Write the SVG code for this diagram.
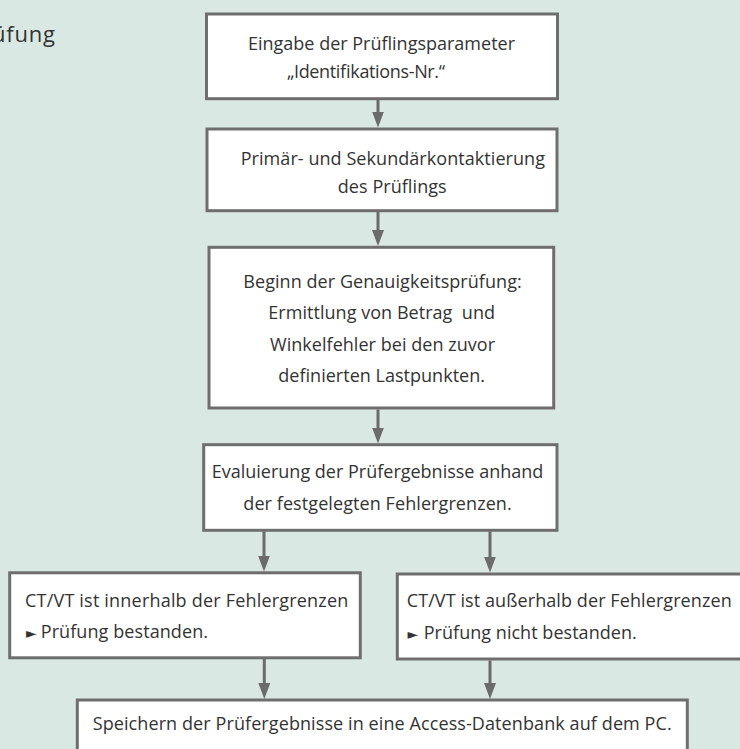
<svg xmlns="http://www.w3.org/2000/svg" width="740" height="749" viewBox="0 0 740 749">
<style>
.box{fill:#ffffff;stroke:#6e6e6e;stroke-width:3}
.t{font-family:"Open Sans","Noto Sans","Liberation Sans",sans-serif;font-size:18px;fill:#333333}
.bul{font-family:"DejaVu Sans","Noto Sans",sans-serif;font-size:14px;fill:#333333}
.title{font-family:"Open Sans","Noto Sans","Liberation Sans",sans-serif;font-size:22px;fill:#333333}
.con{stroke:#6b6b6b;stroke-width:3;fill:none;marker-end:url(#ah)}
</style>
<defs>
<marker id="ah" markerUnits="userSpaceOnUse" markerWidth="16" markerHeight="12" refX="4" refY="6" orient="auto">
<path d="M0,0 L16,6 L0,12 Z" fill="#6b6b6b"/>
</marker>
</defs>
<rect x="0" y="0" width="740" height="749" fill="#dae8e3"/>
<text class="title" x="-8" y="42" textLength="63">üfung</text>
<g id="connectors">
<path class="con" d="M378,100 L378,115.5"/>
<path class="con" d="M378,212 L378,234"/>
<path class="con" d="M378,409.5 L378,431.5"/>
<path class="con" d="M264,531.5 L264,559.5"/>
<path class="con" d="M490,531.5 L490,560.5"/>
<path class="con" d="M264.3,659 L264.3,687"/>
<path class="con" d="M490,660.5 L490,687"/>
</g>
<g id="n1">
<rect class="box" x="206.5" y="14" width="351" height="84.7"/>
<text class="t" x="248" y="50" textLength="267">Eingabe der Prüflingsparameter</text>
<text class="t" x="287" y="78" textLength="158">„Identifikations-Nr.“</text>
</g>
<g id="n2">
<rect class="box" x="207" y="129" width="350" height="81.7"/>
<text class="t" x="240.7" y="164.5" textLength="304.3">Primär- und Sekundärkontaktierung</text>
<text class="t" x="337.7" y="193.3" textLength="109">des Prüflings</text>
</g>
<g id="n3">
<rect class="box" x="209" y="247.3" width="344.7" height="160.7"/>
<text class="t" x="243.3" y="288.3" textLength="278.4">Beginn der Genauigkeitsprüfung:</text>
<text class="t" x="268.3" y="319.3" textLength="226.7" xml:space="preserve">Ermittlung von Betrag  und</text>
<text class="t" x="270" y="350.5" textLength="225">Winkelfehler bei den zuvor</text>
<text class="t" x="278.3" y="381.5" textLength="206.7">definierten Lastpunkten.</text>
</g>
<g id="n4">
<rect class="box" x="203.7" y="444.7" width="353.3" height="85.6"/>
<text class="t" x="211.7" y="478.3" textLength="331.6">Evaluierung der Prüfergebnisse anhand</text>
<text class="t" x="243.3" y="510" textLength="268.4">der festgelegten Fehlergrenzen.</text>
</g>
<g id="n5">
<rect class="box" x="9.7" y="572.8" width="350.6" height="85"/>
<text class="t" x="25" y="606.7" textLength="323.3">CT/VT ist innerhalb der Fehlergrenzen</text>
<text class="t" y="638.3"><tspan class="bul" x="26">►</tspan><tspan x="36" textLength="172" xml:space="preserve"> Prüfung bestanden.</tspan></text>
</g>
<g id="n6">
<rect class="box" x="397.3" y="574" width="360" height="85"/>
<text class="t" x="406.7" y="606.7" textLength="325">CT/VT ist außerhalb der Fehlergrenzen</text>
<text class="t" y="639"><tspan class="bul" x="407.5">►</tspan><tspan x="419" textLength="217.7" xml:space="preserve"> Prüfung nicht bestanden.</tspan></text>
</g>
<g id="n7">
<rect class="box" x="77.3" y="700" width="610" height="70"/>
<text class="t" x="92.7" y="729.5" textLength="579">Speichern der Prüfergebnisse in eine Access-Datenbank auf dem PC.</text>
</g>
</svg>
